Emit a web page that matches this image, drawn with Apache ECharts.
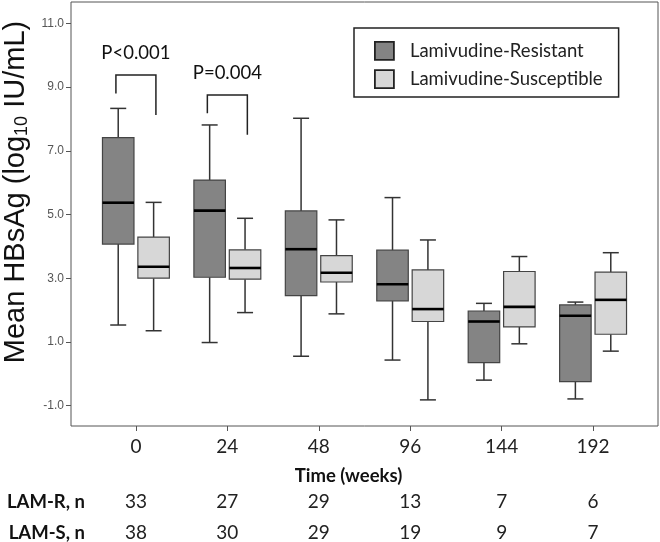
<!DOCTYPE html>
<html>
<head>
<meta charset="utf-8">
<script src="https://cdn.jsdelivr.net/npm/echarts@6/dist/echarts.min.js"></script>
<style>
  html, body { margin: 0; padding: 0; background: #fff; }
  #main { width: 660px; height: 542px; }
</style>
</head>
<body>
<div id="main"></div>
<script>
// 时间点 (weeks)
var weeks = ['0', '24', '48', '96', '144', '192'];
// [min, Q1, median, Q3, max]
var resistantBox = [
    [1.53, 4.07, 5.37, 7.41, 8.33],
    [0.98, 3.03, 5.12, 6.08, 7.81],
    [0.55, 2.45, 3.91, 5.11, 8.02],
    [0.43, 2.29, 2.81, 3.88, 5.53],
    [-0.20, 0.35, 1.64, 1.97, 2.21],
    [-0.79, -0.25, 1.82, 2.16, 2.25]
];
var susceptibleBox = [
    [1.35, 3.00, 3.36, 4.29, 5.38],
    [1.92, 2.97, 3.32, 3.89, 4.88],
    [1.88, 2.88, 3.17, 3.71, 4.83],
    [-0.82, 1.64, 2.03, 3.26, 4.20],
    [0.94, 1.47, 2.10, 3.21, 3.68],
    [0.71, 1.24, 2.32, 3.19, 3.80]
];
var resistantN = [33, 27, 29, 13, 7, 6];
var susceptibleN = [38, 30, 29, 19, 9, 7];
var yTicks = [-1, 1, 3, 5, 7, 9, 11];
// [week index, bracket top, left leg end, right leg end]
var pBrackets = [
    [0, 9.38, 8.80, 8.12],
    [1, 8.75, 8.18, 7.50]
];
var pLabels = ['P<0.001', 'P=0.004'];

var tickIdx = weeks.map(function (w, i) { return i; });
var calibri = 'Lato, "Open Sans", sans-serif';
var arial = '"Liberation Sans", Arial, sans-serif';
var darkFill = '#848484';
var lightFill = '#d7d7d7';

function boxRenderer(shift, fill) {
    return function (params, api) {
        var i = api.value(0);
        var pMin = api.coord([i, api.value(1)]);
        var pQ1 = api.coord([i, api.value(2)]);
        var pMed = api.coord([i, api.value(3)]);
        var pQ3 = api.coord([i, api.value(4)]);
        var pMax = api.coord([i, api.value(5)]);
        var cx = pMin[0] + shift;
        var hw = 15.75, cw = 8;
        var line = { stroke: '#333', lineWidth: 1.5 };
        return {
            type: 'group',
            children: [
                { type: 'line', shape: { x1: cx, y1: pMax[1], x2: cx, y2: pQ3[1] }, style: line },
                { type: 'line', shape: { x1: cx, y1: pQ1[1], x2: cx, y2: pMin[1] }, style: line },
                { type: 'line', shape: { x1: cx - cw, y1: pMax[1], x2: cx + cw, y2: pMax[1] }, style: line },
                { type: 'line', shape: { x1: cx - cw, y1: pMin[1], x2: cx + cw, y2: pMin[1] }, style: line },
                {
                    type: 'rect',
                    shape: { x: cx - hw, y: pQ3[1], width: hw * 2, height: pQ1[1] - pQ3[1] },
                    style: { fill: fill, stroke: '#444', lineWidth: 1.2 }
                },
                { type: 'line', shape: { x1: cx - hw, y1: pMed[1], x2: cx + hw, y2: pMed[1] }, style: { stroke: '#000', lineWidth: 2.6 } }
            ]
        };
    };
}

function bracketRenderer(params, api) {
    var i = api.value(0);
    var top = api.coord([i, api.value(1)]);
    var left = api.coord([i, api.value(2)]);
    var right = api.coord([i, api.value(3)]);
    var cx = top[0];
    return {
        type: 'group',
        children: [
            {
                type: 'polyline',
                shape: { points: [[cx - 20, left[1]], [cx - 20, top[1]], [cx + 20, top[1]], [cx + 20, right[1]]] },
                style: { stroke: '#222', lineWidth: 1.5, fill: null }
            },
            {
                type: 'text',
                x: cx, y: top[1] - 22,
                style: {
                    text: pLabels[params.dataIndex],
                    fontFamily: calibri, fontSize: 18.5, fill: '#111',
                    align: 'center', verticalAlign: 'middle'
                }
            }
        ]
    };
}

var chart = echarts.init(document.getElementById('main'));
var option = {
    animation: false,
    grid: {
        left: 71, right: 2, top: 2, bottom: 116,
        outerBoundsMode: 'none',
        show: true, borderColor: '#555', borderWidth: 1, backgroundColor: '#fff'
    },
    legend: {
        orient: 'vertical',
        left: 354, top: 28,
        padding: [13, 16, 8, 20],
        itemWidth: 19, itemHeight: 18, itemGap: 8.5,
        icon: 'rect',
        borderColor: '#222', borderWidth: 1.5,
        backgroundColor: '#fff',
        textStyle: { fontFamily: calibri, fontSize: 18.5, color: '#222', lineHeight: 18, padding: [0, 0, 0, 11] },
        data: [
            { name: 'Lamivudine-Resistant', itemStyle: { color: darkFill, borderColor: '#222', borderWidth: 1.8 } },
            { name: 'Lamivudine-Susceptible', itemStyle: { color: lightFill, borderColor: '#222', borderWidth: 1.8 } }
        ]
    },
    xAxis: [
        {
            type: 'value', min: -0.71, max: 5.71,
            axisLine: { show: false, onZero: false },
            splitLine: { show: false },
            axisTick: { show: true, customValues: tickIdx, length: 5, lineStyle: { color: '#555' } },
            axisLabel: {
                customValues: tickIdx, margin: 11,
                formatter: function (v) { return weeks[Math.round(v)]; },
                fontFamily: calibri, fontSize: 19, color: '#222'
            },
            name: 'Time (weeks)', nameLocation: 'middle', nameGap: 41,
            nameTextStyle: { fontFamily: calibri, fontSize: 18.5, fontWeight: 'bold', color: '#111', padding: [0, 32, 0, 0] }
        },
        {
            type: 'value', min: -0.71, max: 5.71, position: 'bottom', offset: 76,
            axisLine: { show: false, onZero: false }, axisTick: { show: false }, splitLine: { show: false },
            axisLabel: {
                customValues: tickIdx, margin: 0, verticalAlign: 'middle',
                formatter: function (v) { return resistantN[Math.round(v)]; },
                fontFamily: calibri, fontSize: 19, color: '#222'
            },
            name: 'LAM-R, n', nameLocation: 'start', nameGap: -14,
            nameTextStyle: { fontFamily: calibri, fontSize: 18.5, fontWeight: 'bold', color: '#111' }
        },
        {
            type: 'value', min: -0.71, max: 5.71, position: 'bottom', offset: 107,
            axisLine: { show: false, onZero: false }, axisTick: { show: false }, splitLine: { show: false },
            axisLabel: {
                customValues: tickIdx, margin: 0, verticalAlign: 'middle',
                formatter: function (v) { return susceptibleN[Math.round(v)]; },
                fontFamily: calibri, fontSize: 19, color: '#222'
            },
            name: 'LAM-S, n', nameLocation: 'start', nameGap: -14,
            nameTextStyle: { fontFamily: calibri, fontSize: 18.5, fontWeight: 'bold', color: '#111' }
        }
    ],
    yAxis: {
        type: 'value', min: -1.64, max: 11.67,
        axisLine: { show: false, onZero: false },
        splitLine: { show: false },
        axisTick: { show: true, customValues: yTicks, length: 5, lineStyle: { color: '#555' } },
        axisLabel: {
            customValues: yTicks, margin: 7,
            formatter: function (v) { return v.toFixed(1); },
            fontFamily: arial, fontSize: 12, color: '#555'
        },
        name: 'Mean HBsAg (log{sub|10} IU/mL)',
        nameLocation: 'middle', nameRotate: 90, nameGap: 40,
        nameTextStyle: {
            fontFamily: arial, fontSize: 29, color: '#111',
            padding: [0, 0, 0, 44],
            rich: {
                sub: { fontFamily: arial, fontSize: 18, color: '#111', verticalAlign: 'bottom', padding: [12, 0, 0, 0] }
            }
        }
    },
    series: [
        {
            name: 'Lamivudine-Resistant',
            type: 'custom',
            itemStyle: { color: darkFill },
            encode: { x: 0, y: [1, 2, 3, 4, 5] },
            renderItem: boxRenderer(-17.7, darkFill),
            data: resistantBox.map(function (b, i) { return [i].concat(b); })
        },
        {
            name: 'Lamivudine-Susceptible',
            type: 'custom',
            itemStyle: { color: lightFill },
            encode: { x: 0, y: [1, 2, 3, 4, 5] },
            renderItem: boxRenderer(17.7, lightFill),
            data: susceptibleBox.map(function (b, i) { return [i].concat(b); })
        },
        {
            name: 'pvalues',
            type: 'custom',
            encode: { x: 0, y: [1, 2, 3] },
            renderItem: bracketRenderer,
            data: pBrackets
        }
    ]
};
chart.setOption(option);
</script>
</body>
</html>
